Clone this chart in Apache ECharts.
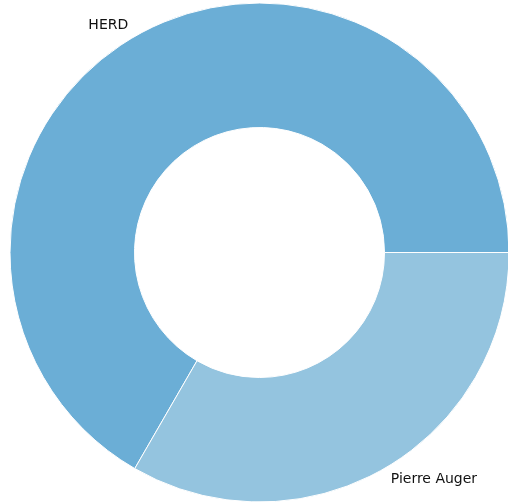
<!DOCTYPE html>
<html>
<head>
<meta charset="utf-8">
<script src="https://cdn.jsdelivr.net/npm/echarts@6/dist/echarts.min.js"></script>
<style>
html,body{margin:0;padding:0;background:#fff;}
#chart{width:508px;height:503px;}
</style>
</head>
<body>
<div id="chart"></div>
<script>
const categories = ["HERD", "Pierre Auger"];
const values = [2, 1];
const colors = ["#6baed6", "#94c4df"];

const chart = echarts.init(document.getElementById('chart'), null, {renderer: 'canvas'});
chart.setOption({
  animation: false,
  backgroundColor: '#ffffff',
  series: [{
    type: 'pie',
    center: [259.5, 252.5],
    radius: [125, 249.5],
    startAngle: 0,
    clockwise: false,
    avoidLabelOverlap: false,
    silent: true,
    itemStyle: {borderColor: '#ffffff', borderWidth: 1},
    label: {
      show: true,
      position: 'outside',
      color: '#111111',
      fontFamily: 'DejaVu Sans',
      fontSize: 14,
      distanceToLabelLine: 0
    },
    labelLine: {show: false, length: 13, length2: 0},
    data: categories.map((c, i) => ({name: c, value: values[i], itemStyle: {color: colors[i]}}))
  }]
});
</script>
</body>
</html>
